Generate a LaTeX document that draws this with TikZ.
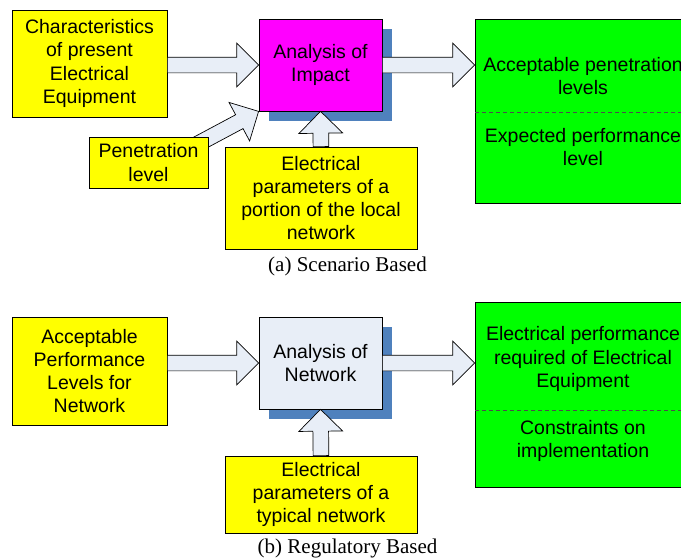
\documentclass[tikz,border=0pt]{standalone}
\usepackage{fontspec}
\setmainfont{Liberation Sans}
\newfontfamily\capfont{Liberation Serif}
\usetikzlibrary{shapes.arrows,shadows,backgrounds,calc}

\definecolor{boxyellow}{HTML}{FFFF00}
\definecolor{boxmagenta}{HTML}{FF00FF}
\definecolor{boxgreen}{HTML}{00FF00}
\definecolor{arrowfill}{HTML}{E8EEF7}
\definecolor{shadowblue}{HTML}{4F81BD}

\tikzset{
  box/.style={draw, line width=0.7pt, align=center, inner sep=0pt, font=\fontsize{19.5}{23.3}\selectfont},
  ybox/.style={box, fill=boxyellow},
  gbox/.style={box, fill=boxgreen},
  abox/.style={box, drop shadow={shadow xshift=10pt, shadow yshift=-10pt, fill=shadowblue, opacity=1}},
  bigarrow/.style={single arrow, draw, line width=0.7pt, fill=arrowfill, inner xsep=0pt, inner ysep=7.5pt, outer sep=0pt, single arrow head extend=14pt, single arrow tip angle=90},
  gtext/.style={font=\fontsize{19.5}{23.3}\selectfont, align=center},
  caption/.style={font=\capfont\fontsize{21}{25}\selectfont},
  divider/.style={dash pattern=on 4pt off 3pt, line width=0.6pt, black!70}
}

\newcommand{\blockarrow}[2]{%
  \path let \p1=(#1), \p2=(#2), \n1={veclen(\x2-\x1,\y2-\y1)}, \n2={atan2(\y2-\y1,\x2-\x1)}
    in node[bigarrow, minimum height=\n1, rotate=\n2, anchor=tail] at (\p1) {};}

\begin{document}
\begin{tikzpicture}[x=1pt,y=-1pt]
\clip (0,0) rectangle (681,558);

% (a) scenario based
\node[ybox, minimum width=155, minimum height=107] (char) at (89.5,63.5) {Characteristics\\of present\\Electrical\\Equipment};
\node[abox, fill=boxmagenta, minimum width=123, minimum height=92] (imp) at (320.5,65) {Analysis of\\Impact};
\node[ybox, minimum width=119, minimum height=51] (pen) at (148.5,162.5) {Penetration\\level};
\node[ybox, minimum width=192, minimum height=102] (par1) at (321,198) {Electrical\\parameters of a\\portion of the local\\network};
\node[gbox, minimum width=216, minimum height=184] (res1) at (583,111) {};
\draw[divider] (475,112) -- (691,112);
\node[gtext] (res1a) at (583,76) {Acceptable penetration\\levels};
\node[gtext] (res1b) at (583,147) {Expected performance\\level};
\node[caption] (cap1) at (347.5,266) {(a) Scenario Based};

\coordinate (pentail) at ([xshift=-12pt,yshift=-8pt]pen.north east);
\begin{pgfonlayer}{background}
\blockarrow{pentail}{imp.south west}
\end{pgfonlayer}
\blockarrow{imp.west -| char.east}{imp.west}
\blockarrow{imp.east}{res1.west |- imp.east}
\blockarrow{par1.north}{imp.south}

% (b) regulatory based
\node[ybox, minimum width=155, minimum height=108] (perf) at (89.5,371) {Acceptable\\Performance\\Levels for\\Network};
\node[abox, fill=arrowfill, minimum width=123, minimum height=92] (net) at (320.5,363) {Analysis of\\Network};
\node[ybox, minimum width=192, minimum height=77] (par2) at (321,494.5) {Electrical\\parameters of a\\typical network};
\node[gbox, minimum width=216, minimum height=185] (res2) at (583,394.5) {};
\draw[divider] (475,410) -- (691,410);
\node[gtext] (res2a) at (583,359) {Electrical performance\\required of Electrical\\Equipment};
\node[gtext] (res2b) at (583,441) {Constraints on\\implementation};
\node[caption] (cap2) at (347.5,548) {(b) Regulatory Based};

\blockarrow{net.west -| perf.east}{net.west}
\blockarrow{net.east}{res2.west |- net.east}
\blockarrow{par2.north}{net.south}
\end{tikzpicture}
\end{document}
